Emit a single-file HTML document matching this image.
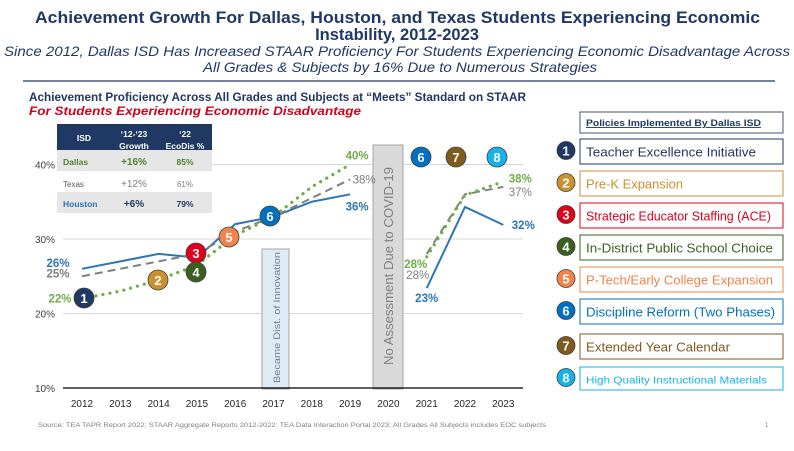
<!DOCTYPE html>
<html><head><meta charset="utf-8"><style>
body{margin:0;background:#fff;width:794px;height:446px;overflow:hidden;font-family:"Liberation Sans",sans-serif}
svg text{font-family:"Liberation Sans",sans-serif}
</style></head><body>
<svg id="s" width="794" height="446" viewBox="0 0 794 446" xmlns="http://www.w3.org/2000/svg">
<g>
<text x="35" y="23" textLength="725" lengthAdjust="spacingAndGlyphs" font-size="16.5" font-weight="bold" fill="#1f3864">Achievement Growth For Dallas, Houston, and Texas Students Experiencing Economic</text>
<text x="397" y="40" text-anchor="middle" font-size="16.5" font-weight="bold" fill="#1f3864">Instability, 2012-2023</text>
<text x="4" y="56" textLength="786" lengthAdjust="spacingAndGlyphs" font-size="14" font-style="italic" fill="#1f3864">Since 2012, Dallas ISD Has Increased STAAR Proficiency For Students Experiencing Economic Disadvantage Across</text>
<text x="203" y="72" textLength="394" lengthAdjust="spacingAndGlyphs" font-size="14" font-style="italic" fill="#1f3864">All Grades &amp; Subjects by 16% Due to Numerous Strategies</text>
<line x1="23" y1="81" x2="775" y2="81" stroke="#1f3864" stroke-width="1.2"/>
</g>
<text x="29" y="101" textLength="497" lengthAdjust="spacingAndGlyphs" font-size="11.5" font-weight="bold" fill="#1f3864">Achievement Proficiency Across All Grades and Subjects at “Meets” Standard on STAAR</text>
<text x="29" y="115" textLength="332" lengthAdjust="spacingAndGlyphs" font-size="11.5" font-weight="bold" font-style="italic" fill="#d0021b">For Students Experiencing Economic Disadvantage</text>

<g id="grid"></g>
<g id="bands">
<rect x="262" y="249" width="27" height="140" fill="#ddebf7" stroke="#a6a6a6"/>
<text transform="translate(280,383) rotate(-90)" textLength="131" lengthAdjust="spacingAndGlyphs" font-size="9.5" fill="#7f7f7f">Became Dist. of Innovation</text>
<rect x="373" y="145" width="30" height="244" fill="#d9d9d9" stroke="#a6a6a6"/>
<text transform="translate(393,365) rotate(-90)" textLength="198" lengthAdjust="spacingAndGlyphs" font-size="13" fill="#7f7f7f">No Assessment Due to COVID-19</text>
</g>
<g id="axes"></g>
<g id="series"></g>
<g id="labels"></g>
<g id="markers"></g>

<g>
<rect x="57" y="124" width="155" height="26" fill="#1f3864"/>
<text x="84" y="141" font-size="8.5" font-weight="bold" fill="#fff" text-anchor="middle">ISD</text>
<text x="134" y="137" font-size="8.5" font-weight="bold" fill="#fff" text-anchor="middle">‘12-‘23</text>
<text x="134" y="149" font-size="8.5" font-weight="bold" fill="#fff" text-anchor="middle">Growth</text>
<text x="185" y="137" font-size="8.5" font-weight="bold" fill="#fff" text-anchor="middle">‘22</text>
<text x="185" y="149" font-size="8.5" font-weight="bold" fill="#fff" text-anchor="middle">EcoDis %</text>
<rect x="57" y="150" width="155" height="21" fill="#e7e6e6"/>
<text x="63" y="165" font-size="8.5" font-weight="bold" fill="#548235">Dallas</text>
<text x="134" y="165" font-size="10" font-weight="bold" fill="#548235" text-anchor="middle">+16%</text>
<text x="185" y="165" font-size="8.5" font-weight="bold" fill="#548235" text-anchor="middle">85%</text>
<text x="63" y="187" font-size="8" fill="#595959">Texas</text>
<text x="134" y="187" font-size="10" fill="#7f7f7f" text-anchor="middle">+12%</text>
<text x="185" y="187" font-size="8" fill="#7f7f7f" text-anchor="middle">61%</text>
<rect x="57" y="192" width="155" height="21" fill="#e7e6e6"/>
<text x="63" y="207" font-size="8.5" font-weight="bold" fill="#2e75b6">Houston</text>
<text x="134" y="207" font-size="10" font-weight="bold" fill="#1f3864" text-anchor="middle">+6%</text>
<text x="185" y="207" font-size="8.5" font-weight="bold" fill="#1f3864" text-anchor="middle">79%</text>
</g>

<g id="policies">
<rect x="580" y="112" width="203" height="21" fill="#fff" stroke="#44546a"/>
<text x="586" y="126" textLength="175" lengthAdjust="spacingAndGlyphs" font-size="9" font-weight="bold" fill="#1f3864" text-decoration="underline">Policies Implemented By Dallas ISD</text>
</g>

<text x="38" y="427" textLength="508" lengthAdjust="spacingAndGlyphs" font-size="6" fill="#7f7f7f">Source: TEA TAPR Report 2022; STAAR Aggregate Reports 2012-2022: TEA Data Interaction Portal 2023; All Grades All Subjects includes EOC subjects</text>
<text x="765" y="427" font-size="6" fill="#7f7f7f">1</text>
</svg>
<script>
const years=[2012,2013,2014,2015,2016,2017,2018,2019,2020,2021,2022,2023];
const yTicks=[10,20,30,40];
const dallasPre=[22,23,24.5,26.5,30.5,33,37,40];
const texasPre=[25,26,27,28,31,33,35.5,38];
const houstonPre=[26,27,28,27.5,32,33,35,36];
const postYears=[2021,2022,2023];
const dallasPost=[27.6,35.9,37.7];
const texasPost=[28,36,37];
const houstonPost=[23.4,34.3,31.9];
const policyNames=["Teacher Excellence Initiative","Pre-K Expansion","Strategic Educator Staffing (ACE)","In-District Public School Choice","P-Tech/Early College Expansion","Discipline Reform (Two Phases)","Extended Year Calendar","High Quality Instructional Materials"];
const policyColors=["#1f3864","#c9912f","#e0001b","#3a5f1f","#f0844a","#0070c0","#7f5a1d","#16b2e8"];
const policyEnds=[756,683,771,773,773,775,730,767];

const NS="http://www.w3.org/2000/svg";
const X=y=>82+(y-2012)*38.3;
const Y=v=>388-(v-10)*7.45;
function mk(tag,attrs,parent,txt){const e=document.createElementNS(NS,tag);for(const k in attrs)e.setAttribute(k,attrs[k]);if(txt!==undefined)e.textContent=txt;document.getElementById(parent).appendChild(e);return e;}

yTicks.forEach(t=>{
  if(t>10){const g=mk('line',{x1:63,x2:523,y1:Y(t),y2:Y(t),stroke:'#d9d9d9','stroke-width':1},'grid');
  
  }
  const l=mk('text',{x:55,y:Y(t)+4,'font-size':10,fill:'#404040','text-anchor':'end'},'axes',t+'%');
  
  
});
const ax=mk('line',{x1:63,x2:523,y1:Y(10),y2:Y(10),stroke:'#000','stroke-width':1.3},'axes');


years.forEach(y=>{const t=mk('text',{x:X(y),y:407,'font-size':10,fill:'#262626','text-anchor':'middle'},'axes',y);

});

function line(ys,vals,style,name){
  const pts=ys.map((y,i)=>X(y)+','+Y(vals[i])).join(' ');
  const p=mk('polyline',Object.assign({points:pts,fill:'none'},style),'series');
  
  
}
const preYears=years.slice(0,8);
const hs={stroke:'#2e75b6','stroke-width':2};
const ts={stroke:'#7f7f7f','stroke-width':2,'stroke-dasharray':'8,5'};
const ds={stroke:'#70ad47','stroke-width':3.2,'stroke-dasharray':'0.1,7','stroke-linecap':'round'};
line(preYears,houstonPre,hs,'houston-line-pre');
line(postYears,houstonPost,hs,'houston-line-post');
line(preYears,texasPre,ts,'texas-line-pre');
line(postYears,texasPost,ts,'texas-line-post');
line(preYears,dallasPre,ds,'dallas-line-pre');
line(postYears,dallasPost,ds,'dallas-line-post');

function lab(x,y,txt,col,bold,name){const t=mk('text',{x:x,y:y,'font-size':11.5,'font-weight':bold?'bold':'normal',fill:col,'text-anchor':'middle'},'labels',txt);

}
lab(X(2012)-24,Y(houstonPre[0])-2,Math.round(houstonPre[0])+'%','#2e75b6',true,'houston-start-label');
lab(X(2012)-24,Y(texasPre[0])+1,Math.round(texasPre[0])+'%','#7f7f7f',true,'texas-start-label');
lab(X(2012)-22,Y(dallasPre[0])+4,Math.round(dallasPre[0])+'%','#70ad47',true,'dallas-start-label');
lab(X(2019)+7,Y(dallasPre[7])-5,dallasPre[7]+'%','#70ad47',true,'dallas-2019-label');
lab(X(2019)+14,Y(texasPre[7])+4,texasPre[7]+'%','#7f7f7f',false,'texas-2019-label');
lab(X(2019)+7,Y(houstonPre[7])+16,houstonPre[7]+'%','#2e75b6',true,'houston-2019-label');
lab(X(2021)-11,Y(dallasPost[0])+11,Math.round(dallasPost[0])+'%','#70ad47',true,'dallas-2021-label');
lab(X(2021)-9,Y(texasPost[0])+25,Math.round(texasPost[0])+'%','#7f7f7f',false,'texas-2021-label');
lab(X(2021),Y(houstonPost[0])+14,Math.round(houstonPost[0])+'%','#2e75b6',true,'houston-2021-label');
lab(X(2023)+17,Y(dallasPost[2])+1,Math.round(dallasPost[2])+'%','#70ad47',true,'dallas-2023-label');
lab(X(2023)+17,Y(texasPost[2])+9,Math.round(texasPost[2])+'%','#7f7f7f',false,'texas-2023-label');
lab(X(2023)+20,Y(houstonPost[2])+4,Math.round(houstonPost[2])+'%','#2e75b6',true,'houston-2023-label');

function circ(cx,cy,r,n,parent){
  const c=mk('circle',{cx:cx,cy:cy,r:r,fill:policyColors[n-1],stroke:'#404040','stroke-width':0.8},parent);
  
  
  mk('text',{x:cx,y:cy+5,'font-size':13,'font-weight':'bold',fill:'#fff','text-anchor':'middle'},parent,n);
}
circ(84,298,10,1,'markers');
circ(158,280,10,2,'markers');
circ(196,253,10,3,'markers');
circ(196,272,10,4,'markers');
circ(229,237,10,5,'markers');
circ(270,216,10,6,'markers');
circ(421,157,10,6,'markers');
circ(456,157,10,7,'markers');
circ(497,157,10,8,'markers');

const boxY=[139,171,203,235,267,299,334,367];
policyNames.forEach((n,i)=>{
  const h=i==7?23:25;
  const b=mk('rect',{x:580,y:boxY[i],width:203,height:h,fill:'#fff',stroke:policyColors[i],'stroke-width':1},'policies');
  
  
  const t=mk('text',{x:586,y:boxY[i]+h/2+5,'font-size':i==7?10:13,fill:policyColors[i],textLength:policyEnds[i]-586,lengthAdjust:'spacingAndGlyphs'},'policies',n);
  
  
  circ(566,boxY[i]+h/2-1,9,i+1,'policies');
});
</script>
</body></html>
